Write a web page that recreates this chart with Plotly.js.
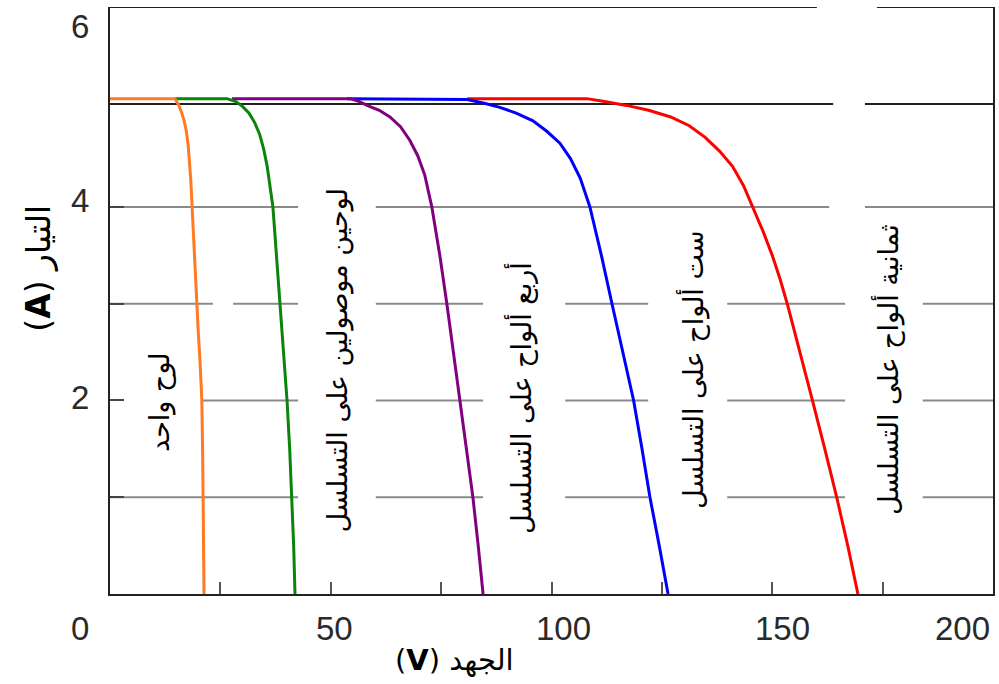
<!DOCTYPE html>
<html>
<head>
<meta charset="utf-8">
<script src="https://cdn.plot.ly/plotly-3.0.1.min.js"></script>
<style>html,body{margin:0;padding:0;background:#fff;}#chart{width:999px;height:684px;}</style>
</head>
<body>
<div id="chart"></div>
<script>
// ---- data (voltage V, current A) ----
const seriesNames = ['لوح واحد', 'لوحين موصولين على التسلسل', 'أربع ألواح على التسلسل', 'ست ألواح على التسلسل', 'ثمانية ألواح على التسلسل'];
const v1 = [0, 14.7, 15.5, 16.2, 16.8, 17.3, 17.7, 18.0, 18.3, 18.6, 19.1, 19.6, 20.0, 20.4, 20.8, 21.0, 21.2, 21.3];
const i1 = [5.12, 5.12, 5.06, 4.98, 4.89, 4.78, 4.64, 4.48, 4.28, 4.0, 3.5, 3.0, 2.7, 2.4, 2.0, 1.4, 0.8, 0];
const v2 = [14.7, 26.5, 28.5, 30.0, 31.5, 32.8, 33.9, 34.8, 35.6, 36.3, 36.9, 37.7, 38.5, 39.3, 40.1, 40.7, 41.2, 41.6, 41.9];
const i2 = [5.12, 5.12, 5.09, 5.04, 4.97, 4.87, 4.75, 4.6, 4.42, 4.22, 4.0, 3.5, 3.0, 2.5, 2.0, 1.5, 1.0, 0.5, 0];
const v4 = [27.6, 54.4, 56.5, 58.2, 61.0, 63.4, 65.8, 67.9, 69.7, 71.3, 72.9, 74.7, 76.3, 77.8, 79.3, 80.8, 82.2, 83.4, 84.5];
const i4 = [5.12, 5.12, 5.09, 5.05, 5.0, 4.93, 4.83, 4.69, 4.53, 4.33, 4.0, 3.5, 3.0, 2.5, 2.0, 1.5, 1.0, 0.5, 0];
const v6 = [53.7, 80.9, 85.0, 88.3, 92.0, 95.8, 99.0, 101.9, 104.3, 106.5, 108.7, 111.3, 113.7, 116.2, 118.6, 120.5, 122.3, 124.4, 126.4];
const i6 = [5.12, 5.11, 5.07, 5.03, 4.97, 4.89, 4.78, 4.66, 4.5, 4.3, 4.0, 3.5, 3.0, 2.5, 2.0, 1.5, 1.0, 0.5, 0];
const v8 = [80.9, 108.0, 112.0, 117.0, 122.0, 127.0, 131.2, 134.8, 138.0, 141.0, 143.5, 145.6, 147.9, 150.0, 151.8, 153.4, 156.3, 159.1, 161.9, 164.6, 167.1, 169.4];
const i8 = [5.12, 5.12, 5.09, 5.05, 5.0, 4.93, 4.84, 4.72, 4.58, 4.42, 4.22, 4.0, 3.75, 3.5, 3.25, 3.0, 2.5, 2.0, 1.5, 1.0, 0.5, 0];
const xTickText = ['0', '50', '100', '150', '200'];
const yTickText = ['2', '4', '6'];
const iscRef = 5.065;   // short-circuit reference line
const yTop = 6.067;

const colors = ['#ff7a22', '#0b840b', '#800080', '#0000ff', '#ff0000'];
const vs = [v1, v2, v4, v6, v8];
const is = [i1, i2, i4, i6, i8];

// draw order: red at the bottom, orange on top
const traces = [];
for (let k = 4; k >= 0; k--) {
  traces.push({x: vs[k], y: is[k], type: 'scatter', mode: 'lines', name: seriesNames[k],
    line: {color: colors[k], width: 3, shape: 'linear'}, hoverinfo: 'skip'});
}

// gridline segments [y, x0, x1] with gaps behind the text labels
const grey = '#8a8a8a', dark = '#222';
const segs = [
  [yTop, 0, 160.1, dark], [yTop, 173.7, 200, dark],
  [iscRef, 0, 163.8, dark], [iscRef, 171, 200, dark],
  [4, 0, 42.6, grey], [4, 60.2, 162.9, grey], [4, 171, 200, grey],
  [3, 0, 23.3, grey], [3, 27.9, 42.6, grey], [3, 60.2, 84.5, grey], [3, 103.1, 121.9, grey], [3, 139.8, 166.5, grey], [3, 184.1, 200, grey],
  [2, 20.8, 42.6, grey], [2, 60.2, 84.5, grey], [2, 103.1, 121.9, grey], [2, 139.8, 166.5, grey], [2, 184.1, 200, grey],
  [1, 0, 42.6, grey], [1, 60.2, 84.5, grey], [1, 103.1, 121.9, grey], [1, 139.8, 166.5, grey], [1, 184.1, 200, grey]
];
const shapes = segs.map(s => ({type: 'line', xref: 'x', yref: 'y', x0: s[1], x1: s[2], y0: s[0], y1: s[0],
  line: {color: s[3], width: 2}, layer: 'below'}));

const numFont = {family: 'Liberation Sans, Arial, sans-serif', size: 33, color: '#2a2a2a'};
const arFont = {family: 'DejaVu Sans, sans-serif', size: 27, color: '#000'};
const annotations = [];
const xLabPos = [-0.034, 0.2548, 0.514, 0.762, 0.965];
xTickText.forEach((t, k) => annotations.push({xref: 'paper', yref: 'paper', x: xLabPos[k], y: -0.058, text: t,
  showarrow: false, font: numFont, xanchor: 'center', yanchor: 'middle'}));
const yLabPos = [0.334, 0.671, 0.966];
yTickText.forEach((t, k) => annotations.push({xref: 'paper', yref: 'paper', x: -0.034, y: yLabPos[k], text: t,
  showarrow: false, font: numFont, xanchor: 'center', yanchor: 'middle'}));
annotations.push({xref: 'paper', yref: 'paper', x: 0.3907, y: -0.1124, text: '(<b>V</b>) الجهد', showarrow: false,
  font: {family: 'DejaVu Sans, sans-serif', size: 29, color: '#000'}, xanchor: 'center', yanchor: 'middle'});
annotations.push({xref: 'paper', yref: 'paper', x: -0.081, y: 0.555, text: '(<b>A</b>) التيار', showarrow: false, textangle: -90,
  font: {family: 'DejaVu Sans, sans-serif', size: 33, color: '#000'}, xanchor: 'center', yanchor: 'middle'});
const labPos = [[0.0566, 0.327], [0.258, 0.399], [0.4655, 0.334], [0.659, 0.3816], [0.88, 0.3816]];
seriesNames.forEach((t, k) => annotations.push({xref: 'paper', yref: 'paper', x: labPos[k][0], y: labPos[k][1], text: t,
  showarrow: false, textangle: -90, font: arFont, xanchor: 'center', yanchor: 'middle'}));

const layout = {
  width: 999, height: 684,
  margin: {l: 110, r: 6, t: 7, b: 90},
  paper_bgcolor: '#fff', plot_bgcolor: '#fff',
  showlegend: false,
  xaxis: {range: [0, 200], showgrid: false, zeroline: false, showline: true, linecolor: dark, linewidth: 2,
    ticks: 'inside', tick0: 0, dtick: 25, ticklen: 12, tickwidth: 2, tickcolor: '#555', showticklabels: false, fixedrange: true},
  yaxis: {range: [0, yTop], showgrid: false, zeroline: false, showline: true, mirror: true, linecolor: dark, linewidth: 2,
    ticks: 'inside', tickvals: [1, 2, 3, 4], ticklen: 14, tickwidth: 2, tickcolor: '#444', showticklabels: false, fixedrange: true},
  shapes: shapes,
  annotations: annotations
};
Plotly.newPlot('chart', traces, layout, {displayModeBar: false, staticPlot: true});
</script>
</body>
</html>
